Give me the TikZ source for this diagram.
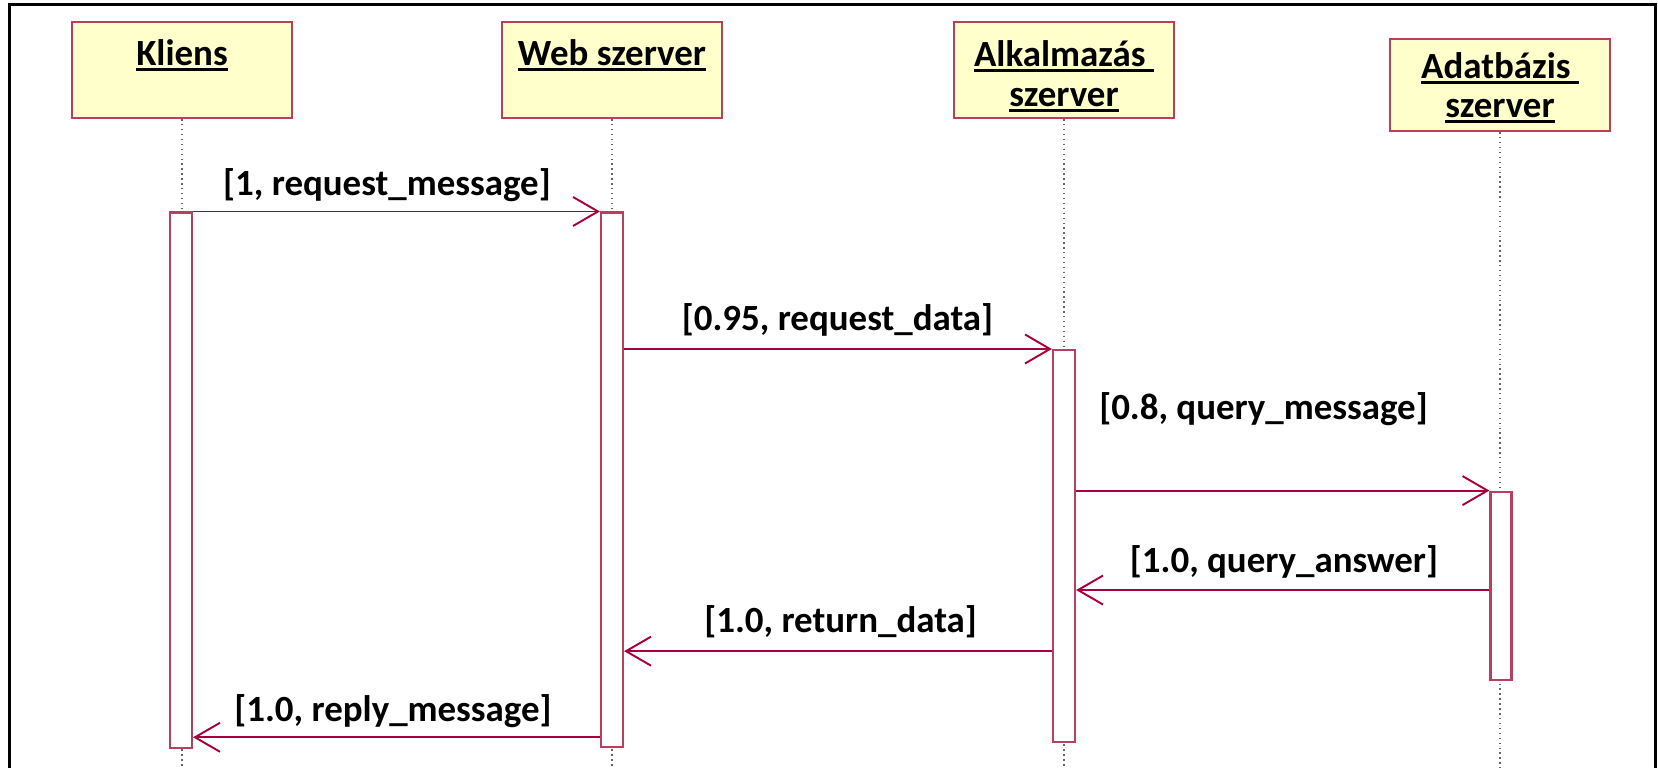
\documentclass[tikz,border=0pt]{standalone}
\usepackage{fontspec}
\setmainfont{Carlito}
\usetikzlibrary{arrows.meta}
\definecolor{boxfill}{HTML}{FFFFCC}
\definecolor{boxline}{HTML}{B8405E}
\definecolor{msgline}{HTML}{A8003C}
\tikzset{>={Straight Barb[length=0.25cm,width=0.29cm]}}
\newcommand{\hul}[1]{\setbox0=\hbox{#1}\rlap{\rule[-0.055cm]{\wd0}{0.028cm}}\box0}

\begin{document}
\begin{tikzpicture}[x=0.01cm,y=-0.01cm]
\tikzset{
  actor/.style={
    draw=boxline,
    fill=boxfill,
    line width=0.6pt,
    minimum width=2.2cm,
    minimum height=0.96cm,
    anchor=north,
    inner sep=0pt
  },
  act/.style={
    draw=boxline,
    fill=white,
    line width=0.6pt,
    minimum width=0.22cm,
    anchor=north,
    inner sep=0pt
  },
  life/.style={densely dotted,gray!80!black,line width=0.4pt},
  msg/.style={->,draw=msgline,line width=0.55pt}
};

\tikzstyle{lab}=[font=\fontsize{10.5}{12}\selectfont\bfseries,anchor=base,inner sep=0pt]

 \useasboundingbox (0,0) rectangle (1658,768);
 \coordinate (bot) at (0,768);
 \draw[line width=0.85pt] (9.5,768) -- (9.5,5) -- (1655.5,5) -- (1655.5,768);

 \node[actor] (kliens) at (182,21) {};
 \node[actor] (web) at (612,21) {};
 \node[actor] (alk) at (1064,21) {};
 \node[actor,minimum height=0.92cm] (adat) at (1500,38) {};

 \node[lab] (kt) at ([yshift=-0.44cm]kliens.north) {\hul{Kliens}};
 \node[lab] (wt) at ([yshift=-0.44cm]web.north) {\hul{Web szerver}};
 \node[lab] (at1) at ([yshift=-0.45cm]alk.north) {\hul{Alkalmazás\ }};
 \node[lab] (at2) at ([yshift=-0.85cm]alk.north) {\hul{szerver}};
 \node[lab] (dt1) at ([yshift=-0.40cm]adat.north) {\hul{Adatbázis\ }};
 \node[lab] (dt2) at ([yshift=-0.79cm]adat.north) {\hul{szerver}};

 \draw[life] (kliens.south) -- (kliens.south |- bot);
 \draw[life] (web.south) -- (web.south |- bot);
 \draw[life] (alk.south) -- (alk.south |- bot);
 \draw[life] (adat.south) -- (adat.south |- bot);

 \node[act,minimum height=5.35cm] (ka) at (181,211.5) {};
 \node[act,minimum height=5.34cm] (wa) at (612,211.5) {};
 \node[act,minimum height=3.92cm] (aa) at (1064,349) {};
 \node[act,minimum height=1.884cm,minimum width=0.21cm] (da) at (1501,490.6) {};

 \draw[msg] (ka.north east) -- (wa.north west);
 \draw[msg] (wa.east |- aa.north) -- (aa.north west);
 \draw[msg] (aa.east |- da.north) -- (da.north west);
 \draw[msg] ([yshift=-0.994cm]da.north west) coordinate (r4) -- (aa.east |- r4);
 \draw[msg] ([yshift=-3.02cm]aa.north west) coordinate (r5) -- (wa.east |- r5);
 \draw[msg] ([yshift=-5.255cm]wa.north west) coordinate (r6) -- (ka.east |- r6);

 \node[lab] (l1) at (387,196) {[1, request\_message]};
 \node[lab] (l2) at (837.5,331) {[0.95, request\_data]};
 \node[lab] (l3) at (1263.5,420) {[0.8, query\_message]};
 \node[lab] (l4) at (1284,573) {[1.0, query\_answer]};
 \node[lab] (l5) at (840.6,633) {[1.0, return\_data]};
 \node[lab] (l6) at (393,722) {[1.0, reply\_message]};
\end{tikzpicture}
\end{document}
